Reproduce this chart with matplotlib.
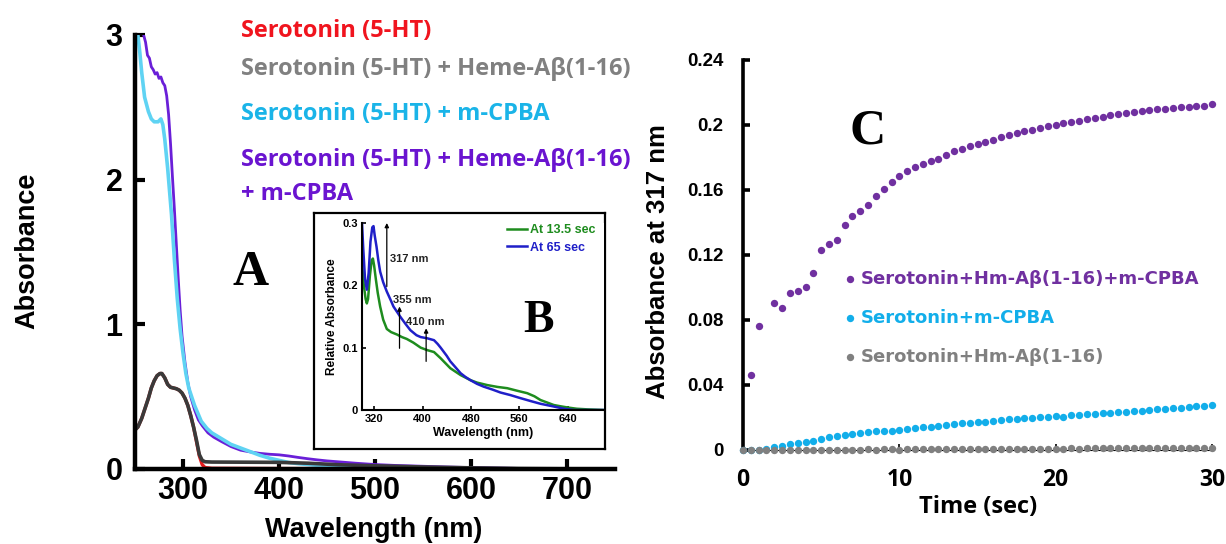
import numpy as np
import matplotlib
matplotlib.use("Agg")
import matplotlib.pyplot as plt

# ---- panel A: full UV-vis spectra ----
wl_purple = [259, 261, 263, 265, 267, 269, 271, 273, 275, 277, 279, 281, 283, 285,
             287, 289, 291, 293, 295, 297, 299, 302, 305, 308, 312, 316, 320, 326,
             332, 340, 350, 360, 370, 380, 390, 400, 410, 420, 430, 440, 450, 465,
             480, 500, 520, 540, 575, 600, 650, 700, 750]
abs_purple = [3.0, 2.95, 2.86, 2.84, 2.78, 2.76, 2.73, 2.74, 2.70, 2.71, 2.67, 2.65,
              2.58, 2.45, 2.25, 2.02, 1.80, 1.56, 1.32, 1.10, 0.92, 0.74, 0.60, 0.50,
              0.41, 0.34, 0.30, 0.25, 0.22, 0.19, 0.155, 0.13, 0.118, 0.108, 0.102,
              0.098, 0.09, 0.08, 0.071, 0.063, 0.056, 0.048, 0.04, 0.031, 0.025,
              0.021, 0.014, 0.01, 0.004, 0.001, 0.0]

wl_cyan = [250, 253, 255, 257, 260, 264, 267, 270, 274, 277, 279, 281, 284, 286, 288,
           291, 294, 297, 300, 303, 306, 312, 319, 325, 330, 340, 350, 360, 370, 380,
           390, 400, 410, 420, 435, 450, 470, 500, 550, 750]
abs_cyan = [3.0, 3.0, 2.88, 2.74, 2.57, 2.47, 2.42, 2.40, 2.40, 2.42, 2.38, 2.28, 2.08,
            1.92, 1.76, 1.45, 1.18, 0.97, 0.80, 0.66, 0.56, 0.44, 0.33, 0.28, 0.25,
            0.21, 0.17, 0.145, 0.12, 0.095, 0.075, 0.06, 0.045, 0.037, 0.028, 0.021,
            0.012, 0.004, 0.0, 0.0]

wl_5ht = [250, 253, 257, 260, 264, 267, 270, 273, 276, 278, 281, 284, 287, 290, 293,
          296, 299, 302, 305, 308, 311, 314, 317, 320, 323, 330, 400, 750]
abs_red = [0.27, 0.29, 0.35, 0.41, 0.49, 0.56, 0.61, 0.645, 0.66, 0.66, 0.63, 0.585,
           0.565, 0.56, 0.555, 0.545, 0.525, 0.49, 0.44, 0.37, 0.29, 0.19, 0.09, 0.03,
           0.01, 0.005, 0.003, 0.0]

wl_heme = [250, 253, 257, 260, 264, 267, 270, 273, 276, 278, 281, 284, 287, 290, 293,
           296, 299, 302, 305, 308, 311, 314, 317, 320, 323, 330, 400, 430, 460, 500,
           550, 600, 650, 700, 750]
abs_heme = [0.27, 0.29, 0.35, 0.41, 0.49, 0.56, 0.61, 0.645, 0.66, 0.66, 0.63, 0.585,
            0.565, 0.56, 0.555, 0.545, 0.525, 0.49, 0.44, 0.37, 0.29, 0.20, 0.10, 0.06,
            0.05, 0.048, 0.046, 0.04, 0.03, 0.022, 0.014, 0.008, 0.003, 0.001, 0.0]

# ---- panel B: difference spectra ----
wl_b1 = [300, 303, 306, 308, 310, 313, 316, 318, 320, 323, 326, 330, 335, 341, 348,
         358, 366, 374, 385, 397, 408, 419, 430, 446, 463, 479, 490, 507, 524, 540,
         556, 573, 585, 595, 606, 617, 628, 640, 655, 673, 700]
abs_b1 = [0.236, 0.20, 0.178, 0.171, 0.178, 0.215, 0.240, 0.243, 0.232, 0.209, 0.188,
          0.166, 0.145, 0.13, 0.125, 0.121, 0.117, 0.114, 0.108, 0.100, 0.096, 0.093,
          0.083, 0.067, 0.056, 0.048, 0.044, 0.040, 0.037, 0.035, 0.031, 0.027, 0.022,
          0.016, 0.012, 0.008, 0.006, 0.004, 0.002, 0.001, 0.0]

wl_b2 = [300, 302, 305, 308, 311, 314, 317, 319, 321, 324, 327, 330, 335, 341, 348,
         352, 363, 372, 380, 390, 397, 408, 419, 425, 430, 440, 446, 455, 463, 471,
         479, 490, 501, 515, 529, 545, 562, 580, 595, 615, 634, 650, 700]
abs_b2 = [0.30, 0.26, 0.21, 0.193, 0.22, 0.27, 0.293, 0.295, 0.28, 0.262, 0.24, 0.222,
          0.205, 0.19, 0.175, 0.166, 0.15, 0.138, 0.128, 0.12, 0.117, 0.115, 0.112,
          0.106, 0.100, 0.087, 0.078, 0.068, 0.059, 0.053, 0.048, 0.042, 0.0375, 0.033,
          0.028, 0.024, 0.019, 0.014, 0.010, 0.006, 0.002, 0.0, 0.0]

# ---- panel C: kinetics at 317 nm ----
t_all = np.arange(0, 30.01, 0.5)
t_purple = np.concatenate([[0.5, 1.0], np.arange(2.0, 30.01, 0.5)])
k_purple = [0.0462, 0.0761,
            0.0906, 0.0871, 0.0965, 0.0977, 0.1006, 0.109, 0.1233, 0.1266, 0.1292,
            0.1385, 0.144, 0.147, 0.151, 0.156, 0.1606, 0.1647, 0.1684, 0.1715, 0.174,
            0.1758, 0.1777, 0.1793, 0.1813, 0.1842, 0.1852, 0.1869, 0.1883, 0.1895,
            0.191, 0.1924, 0.1938, 0.1949, 0.1961, 0.1971, 0.1982, 0.1992, 0.2, 0.201,
            0.2018, 0.2027, 0.2035, 0.2043, 0.2051, 0.2059, 0.2068, 0.2074, 0.2078,
            0.2084, 0.209, 0.2096, 0.2101, 0.2105, 0.2109, 0.2113, 0.2115, 0.2119,
            0.2127]
k_cyan = [0, 0, 0, 0.0005, 0.0016, 0.0027, 0.0037, 0.0043, 0.0049, 0.0057, 0.007,
          0.0082, 0.0086, 0.0094, 0.0098, 0.0107, 0.0111, 0.0115, 0.0115, 0.0119,
          0.0123, 0.0127, 0.0133, 0.0139, 0.0144, 0.015, 0.0156, 0.016, 0.0164,
          0.0168, 0.017, 0.0174, 0.018, 0.0185, 0.0189, 0.0193, 0.0197, 0.0199,
          0.0201, 0.0205, 0.0207, 0.0205, 0.0213, 0.0217, 0.0222, 0.0224, 0.0228,
          0.023, 0.0234, 0.0236, 0.0238, 0.0242, 0.0244, 0.025, 0.0252, 0.0256,
          0.026, 0.0264, 0.0268, 0.027, 0.0278]
k_gray = [0, 0, 0, 0, 0.0001, 0, 0.0001, 0.0001, 0.0002, 0.0001,
          0.0002, 0.0002, 0.0003, 0.0002, 0.0003, 0.0003, 0.0004, 0.0003, 0.0004, 0.0004,
          0.0003, 0.0004, 0.0005, 0.0004, 0.0005, 0.0005, 0.0006, 0.0005, 0.0006, 0.0006,
          0.0007, 0.0006, 0.0007, 0.0007, 0.0008, 0.0007, 0.0008, 0.0008, 0.0009, 0.0008,
          0.0009, 0.0009, 0.001, 0.0009, 0.001, 0.001, 0.0011, 0.001, 0.0011, 0.0011,
          0.0012, 0.0011, 0.0012, 0.0012, 0.0013, 0.0012, 0.0013, 0.0013, 0.0014, 0.0014,
          0.0015]

legend_a = ["Serotonin (5-HT)", "Serotonin (5-HT) + Heme-A\u03b2(1-16)",
            "Serotonin (5-HT) + m-CPBA", "Serotonin (5-HT) + Heme-A\u03b2(1-16)",
            "+ m-CPBA"]
legend_c = ["Serotonin+Hm-A\u03b2(1-16)+m-CPBA", "Serotonin+m-CPBA",
            "Serotonin+Hm-A\u03b2(1-16)"]

W, H = 1226, 544
ARIAL = "Liberation Sans"
CAL = ["Open Sans", "DejaVu Sans"]
SERIF = "Liberation Serif"


def px(x0, y0, x1, y1):
    """Pixel box (left, top, right, bottom) -> figure fraction rect."""
    return [x0 / W, 1 - y1 / H, (x1 - x0) / W, (y1 - y0) / H]


fig = plt.figure(figsize=(W / 100, H / 100), dpi=100)

# ---------------- A ----------------
axA = fig.add_axes(px(135, 35, 615, 469))
axA.plot(wl_purple, abs_purple, color="#6a1fd8", lw=2.0)
axA.plot(wl_cyan, abs_cyan, color="#5fd3f3", lw=2.6)
axA.plot(wl_5ht, abs_red, color="#e31a1c", lw=2.4)
axA.plot(wl_heme, abs_heme, color="#3a3a3a", lw=2.6)
axA.set_xlim(250, 750)
axA.set_ylim(0, 3)
axA.set_xticks([300, 400, 500, 600, 700])
axA.set_yticks([0, 1, 2, 3])
for s in ("top", "right"):
    axA.spines[s].set_visible(False)
for s in ("left", "bottom"):
    axA.spines[s].set_linewidth(3.2)
axA.tick_params(direction="in", length=7, width=3, labelsize=22, pad=5)
axA.tick_params(axis="y", pad=9)
for lab in axA.get_xticklabels() + axA.get_yticklabels():
    lab.set_fontfamily(ARIAL)
    lab.set_fontweight("bold")

fig.text(27 / W, 1 - 251 / H, "Absorbance", rotation=90, ha="center", va="center",
         fontsize=19.5, fontweight="bold", family=ARIAL)
fig.text(374 / W, 1 - 530 / H, "Wavelength (nm)", ha="center", va="center",
         fontsize=19.5, fontweight="bold", family=ARIAL)

a_colors = ["#f0141e", "#808080", "#1ab4e8", "#6a14d0", "#6a14d0"]
a_base = [37, 75, 120, 166, 200]
for txt, col, yb in zip(legend_a, a_colors, a_base):
    fig.text(241 / W, 1 - yb / H, txt, color=col, fontsize=17, fontweight="bold",
             family=CAL, va="baseline", ha="left")

fig.text(251 / W, 1 - 285 / H, "A", fontsize=36, fontweight="bold", family=SERIF,
         ha="center", va="baseline")

# ---------------- B (inset) ----------------
frame = fig.add_axes(px(314, 213, 605, 449))
frame.set_xticks([])
frame.set_yticks([])
for s in frame.spines.values():
    s.set_linewidth(1.6)

axB = fig.add_axes(px(362, 223, 604, 410))
axB.plot(wl_b1, abs_b1, color="#1e8c1e", lw=1.8, label="At 13.5 sec")
axB.plot(wl_b2, abs_b2, color="#1f1fc8", lw=1.8, label="At 65 sec")
axB.set_xlim(300, 700)
axB.set_ylim(0, 0.3)
axB.set_xticks([320, 400, 480, 560, 640])
axB.set_yticks([0, 0.1, 0.2, 0.3])
axB.set_yticklabels(["0", "0.1", "0.2", "0.3"])
for s in ("top", "right"):
    axB.spines[s].set_visible(False)
for s in ("left", "bottom"):
    axB.spines[s].set_linewidth(1.5)
axB.tick_params(direction="in", length=3, width=1.2, labelsize=8, pad=3)
for lab in axB.get_xticklabels() + axB.get_yticklabels():
    lab.set_fontfamily(ARIAL)
    lab.set_fontweight("bold")
axB.set_xlabel("Wavelength (nm)", fontsize=9, fontweight="bold", family=ARIAL,
               labelpad=2)
axB.set_ylabel("Relative Absorbance", fontsize=8.5, fontweight="bold", family=ARIAL,
               labelpad=3)

arrows = [(341, 0.198, 0.300, "317 nm", 346, 0.243),
          (362, 0.099, 0.166, "355 nm", 351, 0.177),
          (406, 0.078, 0.131, "410 nm", 373, 0.141)]
for xa, y0, y1, txt, xt, yt in arrows:
    axB.annotate("", xy=(xa, y1), xytext=(xa, y0),
                 arrowprops=dict(arrowstyle="-|>", lw=0.9, color="black",
                                 mutation_scale=6, shrinkA=0, shrinkB=0))
    axB.text(xt, yt, txt, fontsize=8, fontweight="bold", family=ARIAL,
             color="#222222", ha="left", va="center")

legB = axB.legend(loc="center left", bbox_to_anchor=(507 / W, 1 - 238.8 / H),
                  bbox_transform=fig.transFigure, frameon=False, handlelength=1.6,
                  handletextpad=0.2, borderpad=0, borderaxespad=0, labelspacing=0.45,
                  prop={"family": ARIAL, "weight": "bold", "size": 9},
                  labelcolor=["#1e8c1e", "#1f1fc8"])

fig.text(538 / W, 1 - 332 / H, "B", fontsize=33, fontweight="bold", family=SERIF,
         ha="center", va="baseline")

# ---------------- C ----------------
axC = fig.add_axes(px(743, 60, 1212, 450))
sc_c = axC.scatter(t_all, k_cyan, s=28, color="#12aeea", clip_on=False, zorder=3,
                   linewidths=0, label=legend_c[1])
sc_g = axC.scatter(t_all, k_gray, s=28, color="#808080", clip_on=False, zorder=4,
                   linewidths=0, label=legend_c[2])
sc_p = axC.scatter(t_purple, k_purple, s=28, color="#7030a0", clip_on=False,
                   zorder=5, linewidths=0, label=legend_c[0])
axC.set_xlim(0, 30)
axC.set_ylim(0, 0.24)
axC.set_xticks([0, 10, 20, 30])
axC.set_yticks([0, 0.04, 0.08, 0.12, 0.16, 0.2, 0.24])
axC.set_yticklabels(["0", "0.04", "0.08", "0.12", "0.16", "0.2", "0.24"])
for s in ("top", "right"):
    axC.spines[s].set_visible(False)
axC.spines["left"].set_linewidth(2.6)
axC.spines["bottom"].set_linewidth(0.8)
axC.tick_params(axis="y", direction="in", length=5, width=2.6, labelsize=13.5,
                pad=14)
axC.tick_params(axis="x", direction="in", length=4, width=1.2, labelsize=16.5,
                pad=13)
for lab in axC.get_yticklabels():
    lab.set_fontfamily(ARIAL)
    lab.set_fontweight("bold")
for lab in axC.get_xticklabels():
    lab.set_fontfamily(CAL)
    lab.set_fontweight("bold")

fig.text(658 / W, 1 - 262 / H, "Absorbance at 317 nm", rotation=90, ha="center",
         va="center", fontsize=18.5, fontweight="bold", family=ARIAL)
fig.text(978 / W, 1 - 507 / H, "Time (sec)", ha="center", va="center",
         fontsize=17, fontweight="bold", family=CAL)

axC.legend(handles=[sc_p, sc_c, sc_g], loc="center left",
           bbox_to_anchor=(845 / W, 1 - 318 / H), bbox_transform=fig.transFigure,
           frameon=False, handlelength=0.6, handletextpad=0.25, borderpad=0,
           borderaxespad=0, labelspacing=1.15, scatterpoints=1,
           prop={"family": "DejaVu Sans", "weight": "bold", "size": 13},
           labelcolor=["#7030a0", "#12aeea", "#808080"])

fig.text(868 / W, 1 - 143 / H, "C", fontsize=36, fontweight="bold", family=SERIF,
         ha="center", va="baseline")

fig.savefig("out.png", dpi=100)
